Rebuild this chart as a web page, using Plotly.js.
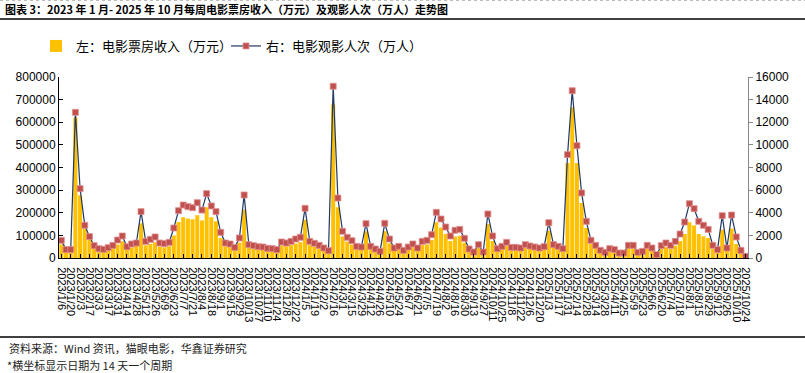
<!DOCTYPE html>
<html>
<head>
<meta charset="utf-8">
<script src="https://cdn.plot.ly/plotly-3.0.1.min.js"></script>
<style>html,body{margin:0;padding:0;background:#fff;}#chart{width:805px;height:373px;}</style>
</head>
<body>
<div id="chart"></div>
<script>
// Weekly categories (14-day labelled)
const weeks = [
"2023/1/6","2023/1/13","2023/1/20","2023/1/27","2023/2/3","2023/2/10","2023/2/17","2023/2/24",
"2023/3/3","2023/3/10","2023/3/17","2023/3/24","2023/3/31","2023/4/7","2023/4/14","2023/4/21","2023/4/28",
"2023/5/5","2023/5/12","2023/5/19","2023/5/26","2023/6/2","2023/6/9","2023/6/16","2023/6/23","2023/6/30",
"2023/7/7","2023/7/14","2023/7/21","2023/7/28","2023/8/4","2023/8/11","2023/8/18","2023/8/25",
"2023/9/1","2023/9/8","2023/9/15","2023/9/22","2023/9/29","2023/10/6","2023/10/13","2023/10/20","2023/10/27",
"2023/11/3","2023/11/10","2023/11/17","2023/11/24","2023/12/1","2023/12/8","2023/12/15","2023/12/22","2023/12/29",
"2024/1/5","2024/1/12","2024/1/19","2024/1/26","2024/2/2","2024/2/9","2024/2/16","2024/2/23",
"2024/3/1","2024/3/8","2024/3/15","2024/3/22","2024/3/29","2024/4/5","2024/4/12","2024/4/19","2024/4/26",
"2024/5/3","2024/5/10","2024/5/17","2024/5/24","2024/5/31","2024/6/7","2024/6/14","2024/6/21","2024/6/28",
"2024/7/5","2024/7/12","2024/7/19","2024/7/26","2024/8/2","2024/8/9","2024/8/16","2024/8/23","2024/8/30",
"2024/9/6","2024/9/13","2024/9/20","2024/9/27","2024/10/4","2024/10/11","2024/10/18","2024/10/25",
"2024/11/1","2024/11/8","2024/11/15","2024/11/22","2024/11/29","2024/12/6","2024/12/13","2024/12/20","2024/12/27",
"2025/1/3","2025/1/10","2025/1/17","2025/1/24","2025/1/31","2025/2/7","2025/2/14","2025/2/21","2025/2/28",
"2025/3/7","2025/3/14","2025/3/21","2025/3/28","2025/4/4","2025/4/11","2025/4/18","2025/4/25",
"2025/5/2","2025/5/9","2025/5/16","2025/5/23","2025/5/30","2025/6/6","2025/6/13","2025/6/20","2025/6/27",
"2025/7/4","2025/7/11","2025/7/18","2025/7/25","2025/8/1","2025/8/8","2025/8/15","2025/8/22","2025/8/29",
"2025/9/5","2025/9/12","2025/9/19","2025/9/26","2025/10/3","2025/10/10","2025/10/17","2025/10/24"
];

const tickLabels = [
"2023/1/6","2023/1/20","2023/2/3","2023/2/17","2023/3/3","2023/3/17","2023/3/31","2023/4/14","2023/4/28",
"2023/5/12","2023/5/26","2023/6/9","2023/6/23","2023/7/7","2023/7/21","2023/8/4","2023/8/18","2023/9/1",
"2023/9/15","2023/9/29","2023/10/13","2023/10/27","2023/11/10","2023/11/24","2023/12/8","2023/12/22",
"2024/1/5","2024/1/19","2024/2/2","2024/2/16","2024/3/1","2024/3/15","2024/3/29","2024/4/12","2024/4/26",
"2024/5/10","2024/5/24","2024/6/7","2024/6/21","2024/7/5","2024/7/19","2024/8/2","2024/8/16","2024/8/30",
"2024/9/13","2024/9/27","2024/10/11","2024/10/25","2024/11/8","2024/11/22","2024/12/6","2024/12/20",
"2025/1/3","2025/1/17","2025/1/31","2025/2/14","2025/2/28","2025/3/14","2025/3/28","2025/4/11","2025/4/25",
"2025/5/9","2025/5/23","2025/6/6","2025/6/20","2025/7/4","2025/7/18","2025/8/1","2025/8/15","2025/8/29",
"2025/9/12","2025/9/26","2025/10/10","2025/10/24"
];

// 左：电影票房收入（万元）
const boxOffice = [
60000,33000,33000,621000,277000,130000,85000,50000,34000,31000,
35000,44000,60000,74000,40000,47000,53000,153000,56000,62000,
70000,50000,47000,52000,99000,159000,180000,174000,171000,189000,
166000,224000,180000,162000,88000,52000,48000,36000,68000,214000,
46000,42000,38000,37000,33000,32000,29000,55000,52000,57000,
64000,70000,169000,57000,50000,43000,34000,26000,680000,224000,
95000,72000,59000,40000,37000,118000,40000,31000,23000,118000,
65000,34000,40000,26000,37000,48000,34000,57000,60000,80000,
158000,134000,106000,75000,95000,98000,67000,31000,20000,46000,
20000,150000,75000,32000,40000,54000,36000,36000,34000,46000,
41000,37000,34000,39000,120000,46000,40000,32000,420000,665000,
420000,243000,133000,62000,44000,26000,19000,32000,28000,17000,
17000,44000,44000,19000,23000,44000,34000,11000,40000,48000,
41000,54000,75000,106000,158000,144000,106000,96000,88000,40000,
27000,125000,32000,130000,62000,24000,6000
];

// 右：电影观影人次（万人）
const attendance = [
1560,740,740,12880,6130,2890,1890,1090,825,770,
915,1120,1590,1945,1000,1240,1325,4100,1470,1650,
1860,1325,1270,1385,2650,4185,4685,4540,4450,4890,
4240,5690,4600,4100,2270,1325,1240,940,1770,5570,
1180,1090,1000,970,855,825,740,1415,1325,1470,
1680,1830,4390,1470,1300,1120,885,650,15180,5300,
2360,1830,1530,1030,970,3035,1030,795,590,3065,
1680,885,1030,680,970,1240,885,1470,1560,2060,
4040,3450,2740,1945,2450,2530,1740,795,530,1180,
530,3890,1945,825,1030,1385,940,940,885,1180,
1060,970,885,1000,3120,1180,1030,825,9140,14790,
9930,5750,3240,1560,1120,680,500,825,740,440,
440,1120,1120,500,590,1120,885,295,1090,1325,
1120,1470,2120,3180,4800,4360,3240,2890,2530,1120,
740,3740,885,3800,1860,680,150
];

const W = 805, H = 373, L = 59, R = 57, T = 77, B = 115;
const pw = W - L - R, ph = H - T - B;
const px = v => (v - L) / pw;
const py = v => (H - B - v) / ph;

const cjk = '"Noto Sans CJK SC", "Liberation Sans", sans-serif';
const lat = '"Liberation Sans", Arial, sans-serif';

const traces = [
  {
    type: 'bar', name: '左：电影票房收入（万元）',
    x: weeks, y: boxOffice, yaxis: 'y',
    marker: {color: '#FFC000'},
    hoverinfo: 'x+y'
  },
  {
    type: 'scatter', mode: 'lines+markers', name: '右：电影观影人次（万人）',
    x: weeks, y: attendance, yaxis: 'y2',
    line: {color: '#1F3864', width: 1.2},
    marker: {symbol: 'square', size: 6, color: '#C0504D', line: {color: '#E09090', width: 0.8}}
  }
];

const layout = {
  width: W, height: H,
  margin: {l: L, r: R, t: T, b: B, pad: 0},
  paper_bgcolor: '#fff', plot_bgcolor: '#fff',
  bargap: 0.14,
  showlegend: true,
  legend: {
    orientation: 'h', x: px(36), xanchor: 'left', y: py(46), yanchor: 'middle',
    font: {family: cjk, size: 13, color: '#000'},
    traceorder: 'normal', entrywidth: 145, entrywidthmode: 'pixels',
    bgcolor: 'rgba(0,0,0,0)'
  },
  title: {
    text: '<b>图表 3：2023 年 1 月- 2025 年 10 月每周电影票房收入（万元）及观影人次（万人）走势图</b>',
    x: 5 / W, xanchor: 'left', xref: 'container',
    y: 1 - 10 / H, yanchor: 'middle', yref: 'container',
    font: {family: cjk, size: 11, color: '#000'}
  },
  xaxis: {
    type: 'category',
    tickmode: 'array', tickvals: tickLabels, ticktext: tickLabels,
    tickangle: 90, tickfont: {family: lat, size: 11, color: '#000'},
    ticks: 'inside', ticklen: 4, tickcolor: '#000', ticklabelstandoff: 6,
    showline: true, linecolor: '#000', linewidth: 1,
    showgrid: false, zeroline: false,
    range: [-0.5, weeks.length - 0.5]
  },
  yaxis: {
    range: [0, 800000], dtick: 100000, tickformat: 'd',
    tickfont: {family: lat, size: 12, color: '#000'},
    ticks: 'inside', ticklen: 4, tickcolor: '#000',
    showline: true, linecolor: '#000', linewidth: 1,
    showgrid: false, zeroline: false
  },
  yaxis2: {
    overlaying: 'y', side: 'right',
    range: [0, 16000], dtick: 2000, tickformat: 'd',
    tickfont: {family: lat, size: 12, color: '#000'},
    ticks: 'outside', ticklen: 4, tickcolor: '#888',
    showline: true, linecolor: '#888', linewidth: 1,
    showgrid: false, zeroline: false
  },
  shapes: [
    {type: 'line', xref: 'paper', yref: 'paper', x0: px(0), x1: px(W), y0: py(19), y1: py(19), line: {color: '#000', width: 1.5}},
    {type: 'line', xref: 'paper', yref: 'paper', x0: px(0), x1: px(W), y0: py(337), y1: py(337), line: {color: '#000', width: 1.5}},
    {type: 'line', xref: 'paper', yref: 'paper', x0: px(0), x1: px(W), y0: py(0.5), y1: py(0.5), line: {color: '#bbb', width: 1, dash: 'dot'}}
  ],
  annotations: [
    {text: '资料来源：Wind 资讯，猫眼电影，华鑫证券研究', xref: 'paper', yref: 'paper',
     x: px(7), y: py(348), xanchor: 'left', yanchor: 'middle', showarrow: false,
     font: {family: cjk, size: 11, color: '#222'}},
    {text: '*横坐标显示日期为 14 天一个周期', xref: 'paper', yref: 'paper',
     x: px(5), y: py(365), xanchor: 'left', yanchor: 'middle', showarrow: false,
     font: {family: cjk, size: 11, color: '#222'}}
  ]
};

Plotly.newPlot('chart', traces, layout, {displayModeBar: false, staticPlot: true});
</script>
</body>
</html>
